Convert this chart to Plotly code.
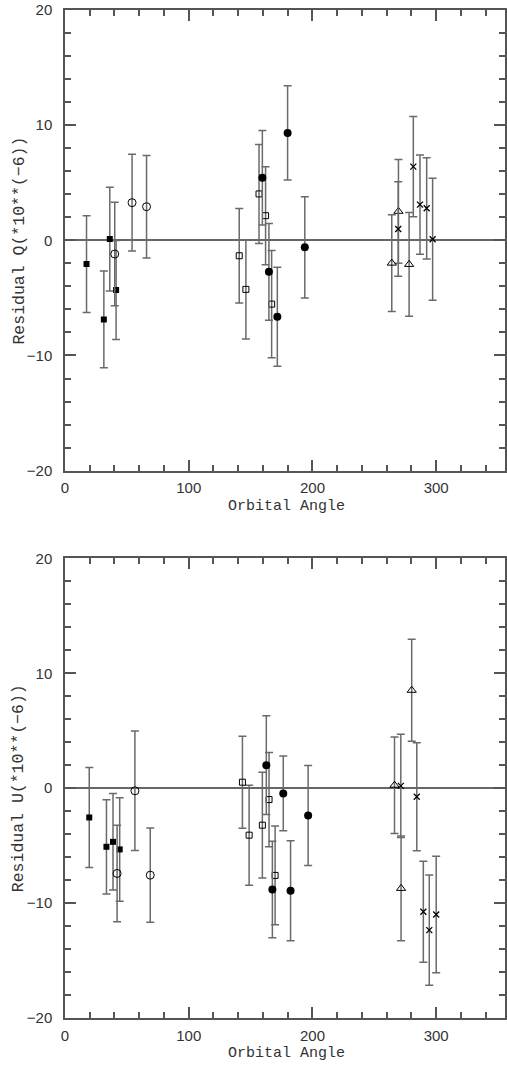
import plotly.graph_objects as go

# ---------------- Residual Q (upper panel) ----------------
q_fsq_x = [17.4, 31.4, 36.2, 41.3]
q_fsq_y = [-2.06, -6.87, 0.11, -4.32]
q_fsq_e = [4.2, 4.2, 4.5, 4.3]

q_ocir_x = [40.2, 54.2, 65.9]
q_ocir_y = [-1.19, 3.27, 2.92]
q_ocir_e = [4.5, 4.2, 4.45]

q_osq_x = [140.8, 146.2, 156.8, 162.1, 167.0]
q_osq_y = [-1.34, -4.26, 4.03, 2.14, -5.54]
q_osq_e = [4.1, 4.3, 4.3, 4.25, 4.65]

q_fcir_x = [159.5, 164.8, 171.6, 179.9, 193.8]
q_fcir_y = [5.44, -2.73, -6.64, 9.33, -0.61]
q_fcir_e = [4.1, 4.2, 4.3, 4.1, 4.4]

q_tri_x = [264.1, 269.5, 278.1]
q_tri_y = [-1.98, 2.52, -2.09]
q_tri_e = [4.2, 4.5, 4.5]

q_x_x = [269.3, 281.5, 286.9, 292.3, 297.1]
q_x_y = [0.98, 6.4, 3.1, 2.78, 0.09]
q_x_e = [4.1, 4.35, 4.3, 4.4, 5.3]

# ---------------- Residual U (lower panel) ----------------
u_fsq_x = [19.6, 33.5, 38.8, 44.2]
u_fsq_y = [-2.55, -5.1, -4.67, -5.33]
u_fsq_e = [4.35, 4.1, 4.2, 4.5]

u_ocir_x = [42.1, 56.5, 68.9]
u_ocir_y = [-7.42, -0.23, -7.57]
u_ocir_e = [4.2, 5.2, 4.1]

u_osq_x = [143.4, 148.8, 159.5, 164.9, 169.8]
u_osq_y = [0.52, -4.09, -3.22, -0.99, -7.59]
u_osq_e = [4.0, 4.35, 4.6, 4.1, 4.3]

u_fcir_x = [162.7, 167.6, 176.4, 182.3, 196.5]
u_fcir_y = [2.0, -8.81, -0.46, -8.93, -2.38]
u_fcir_e = [4.3, 4.2, 3.25, 4.35, 4.35]

u_tri_x = [266.3, 271.6, 280.2]
u_tri_y = [0.26, -8.72, 8.52]
u_tri_e = [4.2, 4.55, 4.43]

u_x_x = [271.4, 284.3, 289.6, 294.4, 300.0]
u_x_y = [0.2, -0.75, -10.75, -12.35, -10.99]
u_x_e = [4.5, 4.7, 4.4, 4.8, 5.07]

X_RANGE = [0, 355.6]
Y_RANGE = [-20, 20]
AXIS_COLOR = "#555555"
BAR_COLOR = "#6a6a6a"

# symbol, size, line width for each data group
STYLES = {
    "fsq": ("square", 6, 0),
    "ocir": ("circle-open", 8, 1),
    "osq": ("square-open", 6, 1),
    "fcir": ("circle", 8, 0),
    "tri": ("triangle-up-open", 8, 1),
    "x": ("x-thin", 6, 1.3),
}

fig = go.Figure()


def add_group(x, y, e, key, xa, ya):
    sym, size, lw = STYLES[key]
    fig.add_trace(go.Scatter(
        x=x, y=y, mode="markers", xaxis=xa, yaxis=ya, showlegend=False,
        marker=dict(symbol=sym, size=size, color="black",
                    line=dict(color="black", width=lw)),
        error_y=dict(type="data", array=e, visible=True, color=BAR_COLOR,
                     thickness=1.5, width=4),
    ))


upper = [
    (q_fsq_x, q_fsq_y, q_fsq_e, "fsq"),
    (q_ocir_x, q_ocir_y, q_ocir_e, "ocir"),
    (q_osq_x, q_osq_y, q_osq_e, "osq"),
    (q_fcir_x, q_fcir_y, q_fcir_e, "fcir"),
    (q_tri_x, q_tri_y, q_tri_e, "tri"),
    (q_x_x, q_x_y, q_x_e, "x"),
]
lower = [
    (u_fsq_x, u_fsq_y, u_fsq_e, "fsq"),
    (u_ocir_x, u_ocir_y, u_ocir_e, "ocir"),
    (u_osq_x, u_osq_y, u_osq_e, "osq"),
    (u_fcir_x, u_fcir_y, u_fcir_e, "fcir"),
    (u_tri_x, u_tri_y, u_tri_e, "tri"),
    (u_x_x, u_x_y, u_x_e, "x"),
]
for g in upper:
    add_group(*g, "x", "y")
for g in lower:
    add_group(*g, "x2", "y2")

tick_font = dict(family="Liberation Sans", size=15, color="#333333")
xtitle_font = dict(family="Liberation Mono", size=15, color="#333333")
ytitle_font = dict(family="Liberation Mono", size=16.5, color="#333333")


def xaxis_cfg(anchor):
    return dict(
        range=X_RANGE, anchor=anchor, tickmode="linear", tick0=0, dtick=100,
        ticks="inside", ticklen=11, tickwidth=1.5, tickcolor=AXIS_COLOR,
        minor=dict(dtick=20, tick0=0, ticks="inside", ticklen=6,
                   tickwidth=1.5, tickcolor=AXIS_COLOR),
        showline=True, linecolor=AXIS_COLOR, linewidth=1.5, mirror="allticks",
        showgrid=False, zeroline=False, tickfont=tick_font,
        ticklabelstandoff=3,
    )


def yaxis_cfg(anchor, domain):
    return dict(
        range=Y_RANGE, anchor=anchor, domain=domain, tickmode="linear",
        tick0=0, dtick=10, ticks="inside", ticklen=11, tickwidth=1.5,
        tickcolor=AXIS_COLOR,
        minor=dict(dtick=2, tick0=0, ticks="inside", ticklen=6,
                   tickwidth=1.5, tickcolor=AXIS_COLOR),
        showline=True, linecolor=AXIS_COLOR, linewidth=1.5, mirror="allticks",
        showgrid=False, zeroline=True, zerolinecolor="#666666",
        zerolinewidth=1.5, tickfont=tick_font, ticklabelstandoff=8,
    )


fig.update_layout(
    width=507, height=1068,
    margin=dict(l=65, r=0, t=10, b=50),
    paper_bgcolor="white", plot_bgcolor="white",
    showlegend=False,
    xaxis=xaxis_cfg("y"),
    yaxis=yaxis_cfg("x", [0.543, 1.0]),
    xaxis2=xaxis_cfg("y2"),
    yaxis2=yaxis_cfg("x2", [0.0, 0.456]),
)

titles = [
    ("Orbital Angle", 0.5045, 0.5073, 0, xtitle_font),
    ("Orbital Angle", 0.5045, -0.0357, 0, xtitle_font),
    ("Residual Q(*10**(\u22126))", -0.104, 0.7715, -90, ytitle_font),
    ("Residual U(*10**(\u22126))", -0.104, 0.2282, -90, ytitle_font),
]
for text, ax, ay, ang, fnt in titles:
    fig.add_annotation(text=text, x=ax, y=ay, xref="paper", yref="paper",
                       showarrow=False, textangle=ang, font=fnt,
                       xanchor="center", yanchor="middle")

fig.write_html("out.html")
